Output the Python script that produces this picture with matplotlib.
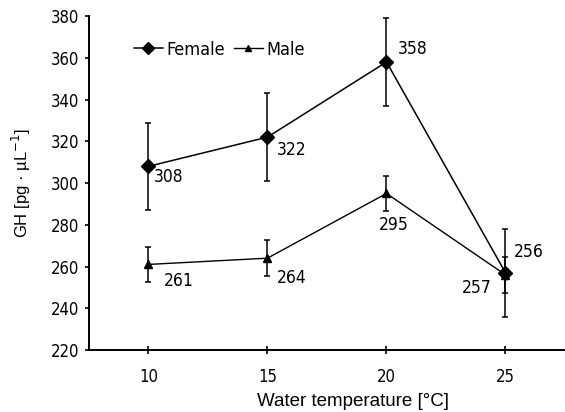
import matplotlib
matplotlib.use("Agg")
import matplotlib.pyplot as plt
from matplotlib.lines import Line2D

temps = [10, 15, 20, 25]
female = [308, 322, 358, 257]
female_err = [21, 21, 21, 21]
male = [261, 264, 295, 256]
male_err = [8.5, 8.5, 8.5, 8.5]
yticks = [220, 240, 260, 280, 300, 320, 340, 360, 380]

cond = dict(family='DejaVu Sans', stretch='condensed')

fig = plt.figure(figsize=(5.65, 4.12), dpi=100)
ax = fig.add_axes([0.1575, 0.1505, 0.8425, 0.8105])

ax.errorbar(temps, female, yerr=female_err, color='black', marker='D', markersize=7,
            lw=1.1, elinewidth=1.1, capsize=2.5, capthick=1.1, zorder=3)
ax.errorbar(temps, male, yerr=male_err, color='black', marker='^', markersize=6,
            lw=1.0, elinewidth=1.1, capsize=2.5, capthick=1.1, zorder=3)

offsets_f = [(4, -8), (6.5, -9), (8, 9), (-10, -11)]
ha_f = ['left', 'left', 'left', 'right']
for x, y, (dx, dy), ha in zip(temps, female, offsets_f, ha_f):
    ax.annotate(str(y), (x, y), xytext=(dx, dy), textcoords='offset points',
                ha=ha, va='center', fontsize=12.5, **cond)
offsets_m = [(11, -12), (6.5, -14), (5, -23), (6, 16.5)]
ha_m = ['left', 'left', 'center', 'left']
for x, y, (dx, dy), ha in zip(temps, male, offsets_m, ha_m):
    ax.annotate(str(y), (x, y), xytext=(dx, dy), textcoords='offset points',
                ha=ha, va='center', fontsize=12.5, **cond)

ax.set_xlim(7.5, 27.5)
ax.set_ylim(220, 380)
ax.set_xticks(temps)
ax.set_yticks(yticks)
for lab in ax.get_xticklabels() + ax.get_yticklabels():
    lab.set_family('DejaVu Sans')
    lab.set_stretch('condensed')
    lab.set_fontsize(12)
ax.tick_params(axis='y', direction='out', length=3, width=1.2, pad=4)
ax.tick_params(axis='x', direction='inout', length=6, width=1.2, pad=10)
for s in ['top', 'right']:
    ax.spines[s].set_visible(False)
for s in ['left', 'bottom']:
    ax.spines[s].set_linewidth(1.4)

ax.set_xlabel('Water temperature [°C]', fontsize=13.5, family='Liberation Sans')
ax.xaxis.set_label_coords(0.5536, -0.13)
ax.set_ylabel('GH [pg · µL$^{-1}$]', fontsize=12, family='Liberation Sans', labelpad=13)

handles = [Line2D([], [], color='black', marker='D', markersize=6, lw=1.1),
           Line2D([], [], color='black', marker='^', markersize=5, lw=1.0)]
leg = ax.legend(handles, ['Female', 'Male'], loc='upper left', bbox_to_anchor=(0.06, 0.975),
                ncol=2, frameon=False, prop={'family': 'DejaVu Sans', 'stretch': 'condensed', 'size': 13},
                handlelength=1.6, handletextpad=0.2, columnspacing=0.5)

fig.savefig('out.png', dpi=100)
